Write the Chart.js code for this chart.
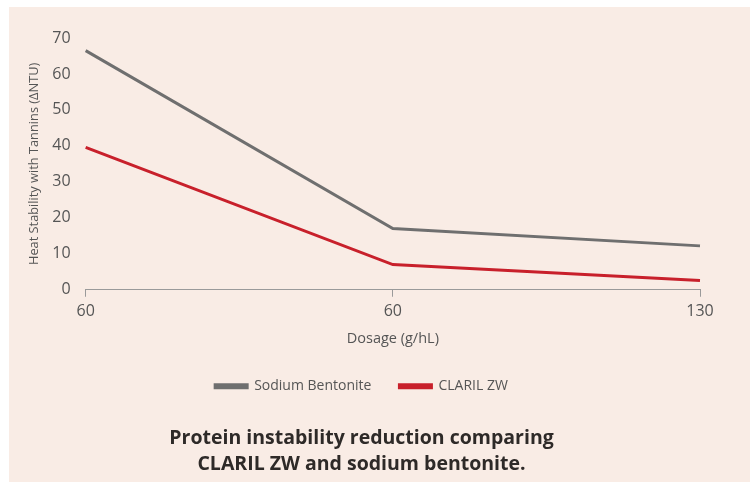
<!DOCTYPE html>
<html>
<head>
<meta charset="utf-8">
<script src="https://cdn.jsdelivr.net/npm/chart.js@4"></script>
<style>
  body { margin: 0; background: #ffffff; }
  #panel { position: absolute; left: 9px; top: 7px; width: 741px; height: 475px; background: #f9ece5; }
</style>
</head>
<body>
<div id="panel"><canvas id="chart" width="741" height="475"></canvas></div>
<script>
const dosages = ['60', '60', '130'];
const sodiumBentonite = [66.5, 17, 12.2];
const clarilZW = [39.6, 7, 2.6];
const yTicks = [0, 10, 20, 30, 40, 50, 60, 70];

Chart.defaults.font.family = "'Open Sans', sans-serif";
Chart.defaults.color = '#555';

new Chart(document.getElementById('chart'), {
  type: 'line',
  data: {
    labels: dosages,
    datasets: [
      {
        label: 'Sodium Bentonite',
        data: sodiumBentonite,
        borderColor: '#6f6f6f',
        backgroundColor: '#6f6f6f',
        borderWidth: 3,
        pointRadius: 0,
        tension: 0
      },
      {
        label: 'CLARIL ZW',
        data: clarilZW,
        borderColor: '#c8202b',
        backgroundColor: '#c8202b',
        borderWidth: 3,
        pointRadius: 0,
        tension: 0
      }
    ]
  },
  options: {
    responsive: false,
    animation: false,
    layout: { padding: { top: 31, right: 50, left: 14, bottom: 4 } },
    scales: {
      x: {
        offset: false,
        grid: { drawOnChartArea: false, drawTicks: true, tickLength: 7, color: '#9a9a9a' },
        border: { color: '#9a9a9a', width: 1 },
        ticks: { font: { size: 16 }, color: '#555', padding: 5, maxRotation: 0 },
        title: { display: true, text: 'Dosage (g/hL)', font: { size: 14.5 }, color: '#555', padding: { top: 4 } }
      },
      y: {
        min: 0,
        max: 70,
        afterBuildTicks: (axis) => { axis.ticks = yTicks.map(v => ({ value: v })); },
        grid: { display: false },
        border: { display: false },
        ticks: { font: { size: 16 }, color: '#555', padding: 7 },
        title: { display: true, text: 'Heat Stability with Tannins (ΔNTU)', font: { size: 12.8 }, color: '#555', padding: { bottom: 3 } }
      }
    },
    plugins: {
      legend: {
        position: 'bottom',
        labels: { boxWidth: 32, boxHeight: 3, padding: 28, font: { size: 14 }, color: '#555' }
      },
      title: {
        display: true,
        position: 'bottom',
        text: ['Protein instability reduction comparing', 'CLARIL ZW and sodium bentonite.'],
        font: { size: 19.5, weight: 'bold', lineHeight: 1.35 },
        color: '#2e2a28',
        padding: { top: 22, bottom: 0 }
      },
      tooltip: { enabled: false }
    }
  }
});
</script>
</body>
</html>
